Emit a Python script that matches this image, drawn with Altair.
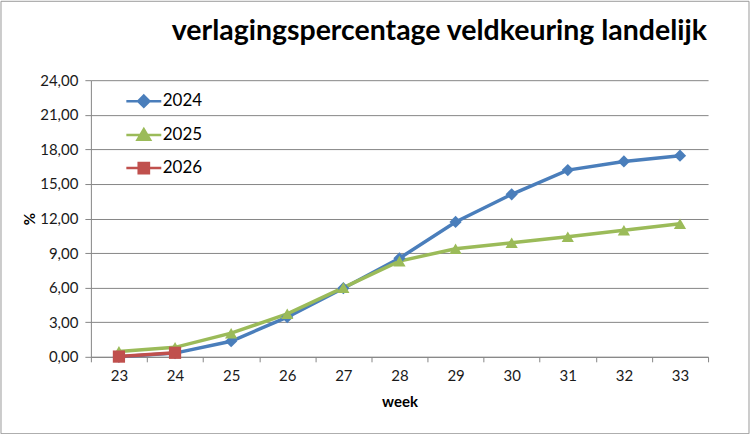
import altair as alt
import pandas as pd

# Weekly reduction percentages (field inspection, national)
weeks = [23, 24, 25, 26, 27, 28, 29, 30, 31, 32, 33]
pct_2024 = [0.00, 0.32, 1.35, 3.45, 5.95, 8.55, 11.70, 14.10, 16.20, 16.95, 17.45]
pct_2025 = [0.47, 0.82, 2.05, 3.73, 6.00, 8.30, 9.38, 9.90, 10.42, 10.98, 11.55]
pct_2026 = [0.02, 0.35]

series = ["2024", "2025", "2026"]
colors = ["#4A7EBB", "#9BBB59", "#C0504D"]
markers = ["diamond", "triangle-up", "square"]
y_ticks = [0, 3, 6, 9, 12, 15, 18, 21, 24]


def nested(points, cx, cy, scales):
    """Concentric outlines of a polygon, so a stroked symbol reads as solid."""
    parts = []
    for k in scales:
        pts = [(cx + (px - cx) * k, cy + (py - cy) * k) for px, py in points]
        parts.append("M" + "L".join(f"{px:.3f},{py:.3f}" for px, py in pts) + "Z")
    return "".join(parts)


# Legend symbols: a line segment with the series marker in the middle
stub = "M-1.06,0L1.06,0"
rings = [1.0, 0.7, 0.4, 0.1]
legend_paths = [
    stub + nested([(0, -0.34), (0.34, 0), (0, 0.34), (-0.34, 0)], 0, 0, rings),
    stub + nested([(0, -0.36), (0.38, 0.28), (-0.38, 0.28)], 0, 0.067, rings),
    stub + nested([(-0.31, -0.31), (0.31, -0.31), (0.31, 0.31), (-0.31, 0.31)], 0, 0, rings),
]

rows = []
for name, values in zip(series, [pct_2024, pct_2025, pct_2026]):
    for w, v in zip(weeks, values):
        rows.append({"week": w, "pct": v, "jaar": name})
df = pd.DataFrame(rows)

FONT = "Lato"

x_enc = alt.X(
    "week:O",
    scale=alt.Scale(type="band", paddingInner=0, paddingOuter=0, domain=weeks),
    axis=alt.Axis(
        title="week",
        labelAngle=0,
        tickBand="extent",
        tickSize=5,
        labelPadding=7,
        titlePadding=11,
        titleFontSize=15,
        titleFontWeight="bold",
        labelFontSize=15,
    ),
)
y_enc = alt.Y(
    "pct:Q",
    scale=alt.Scale(domain=[0, 24], nice=False),
    axis=alt.Axis(
        title="%",
        values=y_ticks,
        labelExpr="replace(format(datum.value, '.2f'), '.', ',')",
        tickSize=6,
        labelPadding=7,
        titlePadding=2,
        titleFontSize=15,
        titleFontWeight="bold",
        labelFontSize=15,
    ),
)

base = alt.Chart(df)

# One line and one marker layer per year, each in its own colour
line_layers = []
point_layers = []
for name, col, shape in zip(series, colors, markers):
    subset = base.transform_filter(alt.datum.jaar == name)
    line_layers.append(
        subset.mark_line(strokeWidth=3.5, color=col).encode(x=x_enc, y=y_enc)
    )
    point_layers.append(
        subset.mark_point(filled=True, shape=shape, size=150, opacity=1, color=col)
        .encode(x=x_enc, y=y_enc)
    )

legend = alt.Legend(
    orient="none",
    legendX=35,
    legendY=3,
    title=None,
    symbolSize=1089,
    symbolStrokeWidth=2.5,
    labelFontSize=17,
    labelFont=FONT,
    labelColor="#000000",
    labelOffset=1,
    rowPadding=5,
)
# Transparent marks that only carry the legend
legend_layer = base.mark_point(filled=False, opacity=0).encode(
    x=x_enc,
    y=y_enc,
    color=alt.Color("jaar:N", scale=alt.Scale(domain=series, range=colors), legend=legend),
    shape=alt.Shape("jaar:N", scale=alt.Scale(domain=series, range=legend_paths), legend=legend),
)

# Outer border of the chart; its extent also sets the canvas size
frame = (
    alt.Chart(pd.DataFrame({"k": [0]}))
    .mark_rect(fill="transparent", stroke="#9a9a9a", strokeWidth=1)
    .encode(
        x=alt.value(-90),
        x2=alt.value(659),
        y=alt.value(-79),
        y2=alt.value(354),
    )
)

chart = (
    alt.layer(*line_layers, *point_layers, legend_layer, frame)
    .properties(
        width=618,
        height=277,
        padding=0,
        background="white",
        title=alt.TitleParams(
            "verlagingspercentage veldkeuring landelijk",
            anchor="start",
            frame="group",
            dx=81,
            offset=-68,
            baseline="alphabetic",
            fontSize=28.5,
            font=FONT,
            fontWeight="bold",
            color="#000000",
        ),
    )
    .configure_view(stroke=None)
    .configure_axis(
        labelFont=FONT,
        titleFont=FONT,
        labelColor="#1a1a1a",
        titleColor="#000000",
        domainColor="#868686",
        tickColor="#868686",
        gridColor="#868686",
        gridWidth=1,
    )
    .configure_axisX(grid=False)
)

chart.save("out.html", embed_options={"renderer": "svg", "actions": False})
